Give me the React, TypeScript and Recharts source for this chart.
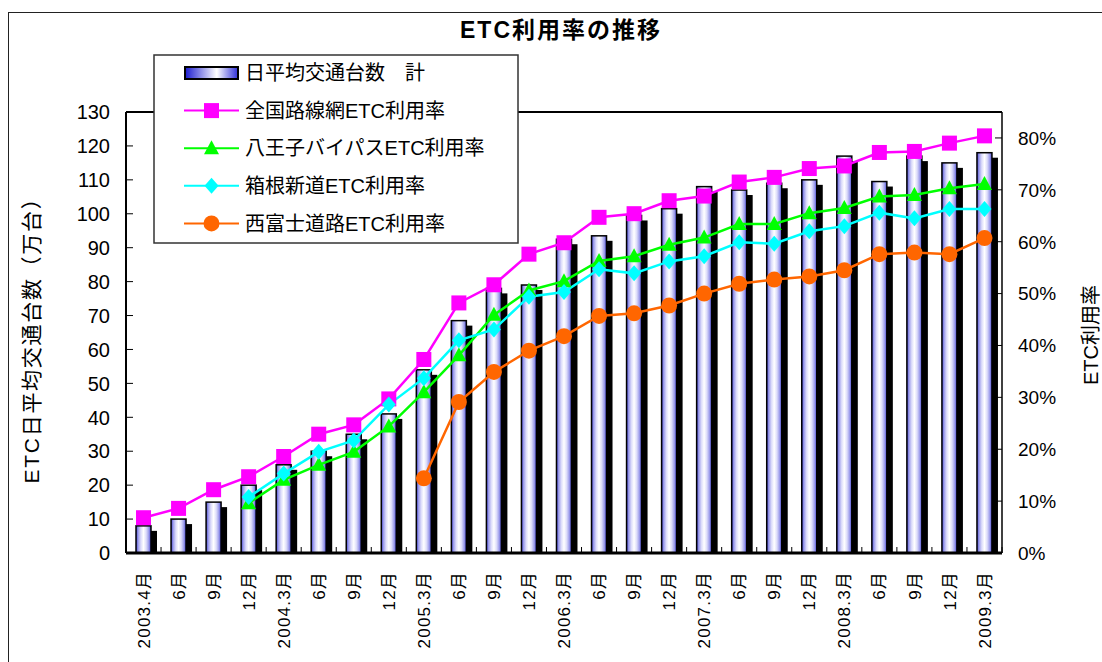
import React from 'react';
import { ComposedChart, Bar, Line, XAxis, YAxis, ReferenceLine } from 'recharts';

const months = [
  '2003.4月', '6月', '9月', '12月',
  '2004.3月', '6月', '9月', '12月',
  '2005.3月', '6月', '9月', '12月',
  '2006.3月', '6月', '9月', '12月',
  '2007.3月', '6月', '9月', '12月',
  '2008.3月', '6月', '9月', '12月',
  '2009.3月',
];

// 日平均交通台数 計 (万台)
const dailyTraffic = [
  8, 10, 15, 20, 26, 30, 35, 41, 54, 68.5, 78, 79, 92.5, 93.5, 99.5, 101.5,
  108, 107, 109, 110, 117, 109.5, 117, 115, 118,
];

// ETC利用率 (%)
const nationalRate = [
  6.8, 8.6, 12.2, 14.7, 18.6, 22.9, 24.7, 29.7, 37.3, 48.2, 51.7, 57.6, 59.8,
  64.7, 65.4, 67.9, 68.8, 71.5, 72.4, 74.1, 74.6, 77.2, 77.4, 79.0, 80.4,
];
const hachiojiRate = [
  null, null, null, 9.6, 14.1, 17.0, 19.5, 24.4, 31.0, 38.1, 45.9, 50.6, 52.4,
  56.3, 57.2, 59.4, 60.8, 63.4, 63.4, 65.5, 66.5, 68.7, 69.0, 70.3, 71.1,
];
const hakoneRate = [
  null, null, null, 10.8, 15.3, 19.5, 21.7, 28.6, 33.7, 41.0, 43.1, 49.4, 50.3,
  54.7, 53.9, 56.2, 57.2, 59.9, 59.6, 62.0, 63.0, 65.6, 64.5, 66.3, 66.3,
];
const nishifujiRate = [
  null, null, null, null, null, null, null, null, 14.4, 29.1, 34.9, 39.0, 41.8,
  45.7, 46.2, 47.7, 50.0, 51.9, 52.7, 53.3, 54.5, 57.6, 57.9, 57.6, 60.7,
];

const leftTicks = [0, 10, 20, 30, 40, 50, 60, 70, 80, 90, 100, 110, 120, 130];
const rightTicks = [0, 10, 20, 30, 40, 50, 60, 70, 80];

const barName = '日平均交通台数\u3000計';
const lineSeries = [
  { key: 'national', name: '全国路線網ETC利用率', color: '#ff00ff', marker: 'square' },
  { key: 'hachioji', name: '八王子バイパスETC利用率', color: '#00ff00', marker: 'triangle' },
  { key: 'hakone', name: '箱根新道ETC利用率', color: '#00ffff', marker: 'diamond' },
  { key: 'nishifuji', name: '西富士道路ETC利用率', color: '#ff6600', marker: 'circle' },
];

const data = months.map((month, i) => ({
  month,
  traffic: dailyTraffic[i],
  national: nationalRate[i],
  hachioji: hachiojiRate[i],
  hakone: hakoneRate[i],
  nishifuji: nishifujiRate[i],
}));

const FONT = '"Liberation Sans", Arial, "Noto Sans CJK JP", sans-serif';
const W = 1102;
const H = 662;
const PLOT_LEFT = 126;
const PLOT_RIGHT = 1002;
const PLOT_TOP = 112;
const PLOT_BOTTOM = 553;
const BAND = (PLOT_RIGHT - PLOT_LEFT) / months.length;

function drawMarker(shape: string, cx: number, cy: number, color: string, key?: any) {
  if (shape === 'square') {
    return <rect key={key} x={cx - 7.5} y={cy - 7.5} width={15} height={15} fill={color} />;
  }
  if (shape === 'triangle') {
    return (
      <polygon key={key} points={`${cx},${cy - 8} ${cx + 7.5},${cy + 6} ${cx - 7.5},${cy + 6}`} fill={color} />
    );
  }
  if (shape === 'diamond') {
    return (
      <polygon key={key} points={`${cx},${cy - 8} ${cx + 7},${cy} ${cx},${cy + 8} ${cx - 7},${cy}`} fill={color} />
    );
  }
  return <circle key={key} cx={cx} cy={cy} r={8} fill={color} />;
}

const makeDot = (shape: string, color: string) => (p: any) => {
  if (p.value == null || p.cy == null) return <g key={p.key ?? p.index} />;
  return drawMarker(shape, p.cx, p.cy, color, p.key ?? p.index);
};

const CylinderBar = (props: any) => {
  const { x, y, width, height } = props;
  if (!height) return <g />;
  return (
    <g>
      <rect x={x + 6} y={y + 5} width={width} height={Math.max(height - 5, 0)} fill="#000" />
      <rect x={x} y={y} width={width} height={height} fill="url(#cylGrad)" stroke="#000" strokeWidth={1.5} />
    </g>
  );
};

const LeftTick = (props: any) => {
  const { x, y, payload } = props;
  return (
    <g>
      <line x1={PLOT_LEFT} x2={PLOT_LEFT + 7} y1={y} y2={y} stroke="#000" />
      <text x={x} y={y} dy="0.36em" textAnchor="end" fontSize={20} fontFamily={FONT} fill="#000">
        {payload.value}
      </text>
    </g>
  );
};

const RightTick = (props: any) => {
  const { x, y, payload } = props;
  return (
    <g>
      <line x1={PLOT_RIGHT} x2={PLOT_RIGHT - 7} y1={y} y2={y} stroke="#000" />
      <text x={x} y={y} dy="0.36em" textAnchor="start" fontSize={19} fontFamily={FONT} fill="#000">
        {payload.value}%
      </text>
    </g>
  );
};

const MonthTick = (props: any) => {
  const { x, y, payload } = props;
  return (
    <g>
      <line x1={x + BAND / 2} x2={x + BAND / 2} y1={PLOT_BOTTOM} y2={PLOT_BOTTOM - 6} stroke="#000" />
      <text
        x={x}
        y={y}
        dy="0.36em"
        textAnchor="end"
        transform={`rotate(-90, ${x}, ${y})`}
        fontSize={17}
        letterSpacing={1.2}
        fontFamily={FONT}
        fill="#000"
      >
        {payload.value}
      </text>
    </g>
  );
};

const LegendBox = () => {
  const rowY = (i: number) => 19 + i * 37.6;
  return (
    <svg width={366} height={190} style={{ position: 'absolute', left: 153, top: 54 }}>
      <defs>
        <linearGradient id="legGrad" x1="0" y1="0" x2="1" y2="0">
          <stop offset="0" stopColor="#1a1ad0" />
          <stop offset="0.6" stopColor="#ffffff" />
          <stop offset="1" stopColor="#3030d8" />
        </linearGradient>
      </defs>
      <rect x={1} y={1} width={364} height={188} fill="#fff" stroke="#333" strokeWidth={1.5} />
      <rect x={32} y={rowY(0) - 6} width={53} height={12} fill="url(#legGrad)" stroke="#000" strokeWidth={2} />
      <text x={92} y={rowY(0)} dy="0.36em" fontSize={20} fontFamily={FONT} fill="#000">
        {barName}
      </text>
      {lineSeries.map((s, i) => (
        <g key={s.key}>
          <line x1={31} x2={86} y1={rowY(i + 1)} y2={rowY(i + 1)} stroke={s.color} strokeWidth={2} />
          {drawMarker(s.marker, 58.5, rowY(i + 1), s.color)}
          <text x={92} y={rowY(i + 1)} dy="0.36em" fontSize={20} fontFamily={FONT} fill="#000">
            {s.name}
          </text>
        </g>
      ))}
    </svg>
  );
};

export default function App() {
  return (
    <div style={{ position: 'absolute', left: 0, top: 0, width: W, height: H, overflow: 'hidden', background: '#fff' }}>
      <div
        style={{
          position: 'absolute',
          left: 8,
          top: 12,
          width: 1300,
          height: 800,
          border: '1.5px solid #222',
        }}
      />
      <svg width={W} height={H} style={{ position: 'absolute', left: 0, top: 0 }}>
        <text x={561} y={38} textAnchor="middle" fontSize={23} fontWeight="bold" letterSpacing={2} fontFamily={FONT} fill="#000">
          ETC利用率の推移
        </text>
        <text
          x={31}
          y={335}
          dy="0.36em"
          textAnchor="middle"
          transform="rotate(-90, 31, 335)"
          fontSize={21}
          letterSpacing={1.7}
          fontFamily={FONT}
          fill="#000"
        >
          ETC日平均交通台数（万台）
        </text>
        <text
          x={1091}
          y={335}
          dy="0.36em"
          textAnchor="middle"
          transform="rotate(-90, 1091, 335)"
          fontSize={20}
          fontFamily={FONT}
          fill="#000"
        >
          ETC利用率
        </text>
      </svg>
      <div style={{ position: 'absolute', left: 0, top: 0 }}>
        <ComposedChart
          width={W}
          height={H}
          data={data}
          margin={{ top: PLOT_TOP, left: PLOT_LEFT - 60, right: W - PLOT_RIGHT - 60, bottom: 9 }}
        >
          <defs>
            <linearGradient id="cylGrad" x1="0" y1="0" x2="1" y2="0">
              <stop offset="0" stopColor="#4040d0" />
              <stop offset="0.14" stopColor="#9a9aea" />
              <stop offset="0.32" stopColor="#dcdcfa" />
              <stop offset="0.5" stopColor="#ffffff" />
              <stop offset="0.68" stopColor="#dcdcfa" />
              <stop offset="0.86" stopColor="#9a9aea" />
              <stop offset="1" stopColor="#4040d0" />
            </linearGradient>
          </defs>
          <XAxis
            dataKey="month"
            height={100}
            interval={0}
            tickLine={false}
            tickSize={0}
            tickMargin={18}
            axisLine={{ stroke: '#000', strokeWidth: 3 }}
            tick={<MonthTick />}
          />
          <YAxis
            yAxisId="left"
            width={60}
            domain={[0, 130]}
            ticks={leftTicks}
            interval={0}
            tickLine={false}
            tickSize={0}
            tickMargin={16}
            axisLine={{ stroke: '#000', strokeWidth: 2 }}
            tick={<LeftTick />}
          />
          <YAxis
            yAxisId="right"
            orientation="right"
            width={60}
            domain={[0, 85]}
            ticks={rightTicks}
            interval={0}
            tickLine={false}
            tickSize={0}
            tickMargin={16}
            axisLine={{ stroke: '#000', strokeWidth: 1.5 }}
            tick={<RightTick />}
          />
          <ReferenceLine yAxisId="left" y={130} stroke="#000" strokeWidth={2} />
          <Bar
            yAxisId="left"
            dataKey="traffic"
            name={barName}
            barSize={15}
            shape={<CylinderBar />}
            isAnimationActive={false}
          />
          {lineSeries.map((s) => (
            <Line
              key={s.key}
              yAxisId="right"
              dataKey={s.key}
              name={s.name}
              stroke={s.color}
              strokeWidth={2.5}
              dot={makeDot(s.marker, s.color)}
              activeDot={false}
              isAnimationActive={false}
            />
          ))}
        </ComposedChart>
      </div>
      <LegendBox />
    </div>
  );
}
